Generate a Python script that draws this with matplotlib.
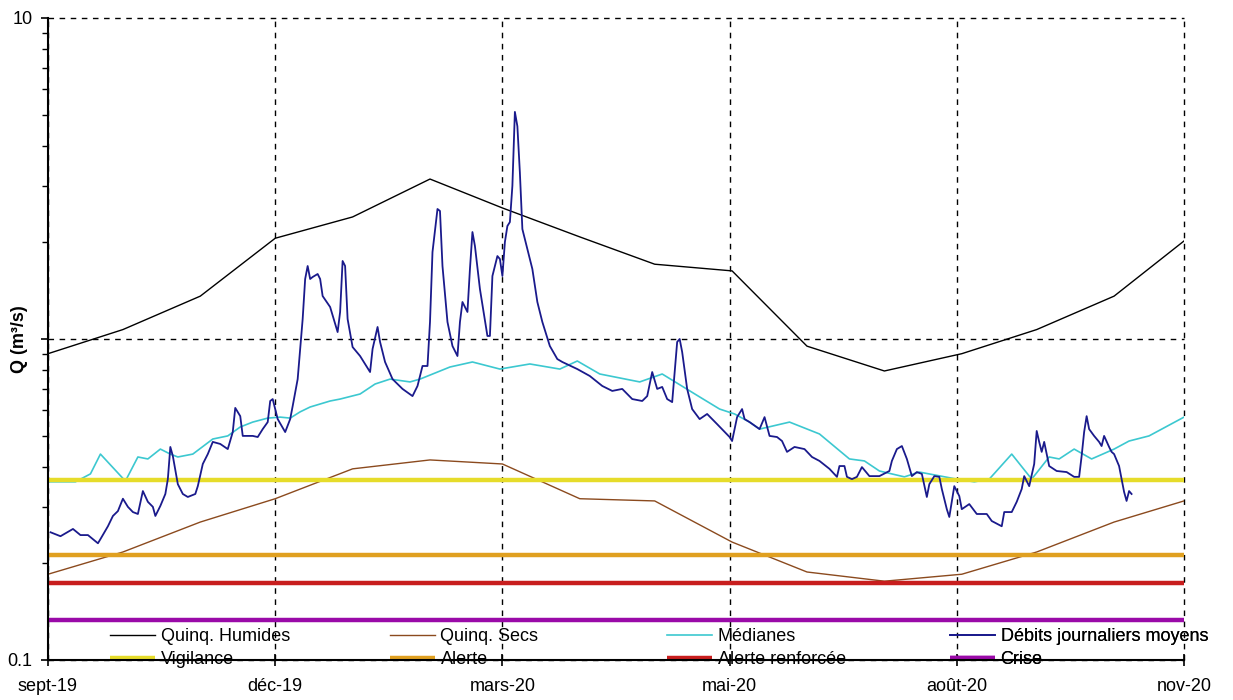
import matplotlib.pyplot as plt
from matplotlib.ticker import LogLocator, NullFormatter

plt.rcParams['font.family'] = ['Liberation Sans', 'DejaVu Sans']

# -----------------------------
# Data (x = days since 2019-09-01)
# -----------------------------
tick_days = [0, 91, 182, 273, 364, 455]
tick_labels = ["sept-19", "déc-19", "mars-20", "mai-20", "août-20", "nov-20"]

month_days = [0, 30, 61, 91, 122, 153, 182, 213, 243, 274, 304, 335, 366, 396, 427, 455]
quinq_humides = [0.90, 1.07, 1.36, 2.06, 2.40, 3.15, 2.56, 2.08, 1.71, 1.63,
                 0.95, 0.795, 0.90, 1.07, 1.36, 2.02]
quinq_secs = [0.185, 0.217, 0.269, 0.318, 0.394, 0.42, 0.408, 0.318, 0.313, 0.233,
              0.188, 0.176, 0.185, 0.217, 0.269, 0.313]

median_days = [0, 11, 17, 21, 31, 36, 40, 45, 49, 52, 58, 66, 72, 77, 82, 88, 93, 97,
               101, 105, 113, 117, 125, 131, 137, 145, 149, 161, 170, 181, 193, 205,
               212, 221, 237, 246, 261, 269, 275, 281, 285, 297, 309, 321, 327, 333,
               343, 349, 364, 371, 377, 386, 394, 401, 405, 411, 418, 427, 433, 441, 455]
medianes = [0.359, 0.359, 0.380, 0.438, 0.361, 0.429, 0.423, 0.454, 0.438, 0.429,
            0.438, 0.488, 0.499, 0.532, 0.551, 0.567, 0.571, 0.567, 0.593, 0.614,
            0.641, 0.650, 0.674, 0.724, 0.750, 0.735, 0.750, 0.818, 0.848, 0.806,
            0.836, 0.806, 0.854, 0.778, 0.735, 0.778, 0.660, 0.605, 0.584, 0.551,
            0.524, 0.551, 0.506, 0.423, 0.417, 0.388, 0.372, 0.385, 0.366, 0.359,
            0.366, 0.438, 0.366, 0.429, 0.423, 0.454, 0.423, 0.454, 0.481, 0.499, 0.571]

debit_days = [1, 5, 10, 13, 16, 20, 21, 24, 26, 28, 30, 32, 34, 36, 38, 40, 42, 43, 45,
              47, 48, 49, 50, 52, 54, 56, 59, 60, 62, 64, 66, 69, 72, 74, 75, 77, 78,
              82, 84, 86, 88, 89, 90, 92, 95, 97, 98, 100, 102, 103, 104, 105, 106,
              108, 109, 110, 113, 116, 117, 118, 119, 120, 122, 125, 129, 130, 132,
              133, 135, 138, 142, 146, 148, 150, 152, 153, 154, 156, 157, 158, 160,
              162, 164, 165, 166, 168, 169, 170, 171, 173, 176, 177, 178, 180, 181,
              182, 183, 184, 185, 186, 187, 188, 189, 190, 192, 194, 196, 198, 201,
              204, 206, 212, 217, 222, 226, 230, 234, 238, 240, 242, 244, 246, 248,
              250, 252, 253, 254, 256, 258, 261, 264, 268, 273, 274, 276, 278, 279,
              281, 285, 287, 289, 292, 294, 296, 299, 303, 306, 309, 313, 316, 317,
              319, 320, 322, 324, 326, 329, 333, 337, 338, 340, 342, 344, 346, 348,
              350, 352, 353, 355, 357, 358, 360, 361, 362, 363, 365, 366, 369, 372,
              376, 378, 382, 383, 386, 388, 390, 391, 393, 395, 396, 397, 398, 399,
              401, 404, 408, 411, 413, 414, 415, 416, 417, 419, 421, 422, 423, 425,
              426, 427, 429, 430, 431, 432, 433, 434]
debits = [0.250, 0.243, 0.256, 0.245, 0.245, 0.231, 0.238, 0.261, 0.281, 0.291, 0.318,
          0.300, 0.289, 0.285, 0.336, 0.311, 0.300, 0.281, 0.302, 0.329, 0.366, 0.461,
          0.432, 0.353, 0.329, 0.322, 0.329, 0.348, 0.408, 0.438, 0.478, 0.471, 0.454,
          0.513, 0.610, 0.575, 0.499, 0.499, 0.495, 0.524, 0.551, 0.641, 0.650, 0.563,
          0.513, 0.563, 0.618, 0.750, 1.154, 1.538, 1.688, 1.538, 1.560, 1.594, 1.538,
          1.361, 1.258, 1.051, 1.214, 1.750, 1.688, 1.154, 0.944, 0.885, 0.789, 0.931,
          1.090, 0.979, 0.848, 0.750, 0.699, 0.664, 0.714, 0.824, 0.824, 1.130, 1.866,
          2.541, 2.505, 1.688, 1.130, 0.951, 0.885, 1.130, 1.304, 1.214, 1.652, 2.154,
          1.948, 1.431, 1.022, 1.022, 1.571, 1.813, 1.775, 1.571, 2.005, 2.249, 2.314,
          3.0, 5.10, 4.60, 3.30, 2.20, 1.907, 1.652, 1.304, 1.130, 0.951, 0.866, 0.848,
          0.806, 0.767, 0.714, 0.689, 0.699, 0.650, 0.641, 0.664, 0.789, 0.699, 0.709,
          0.650, 0.636, 0.979, 1.000, 0.911, 0.699, 0.605, 0.563, 0.584, 0.543, 0.495,
          0.481, 0.571, 0.605, 0.563, 0.551, 0.524, 0.571, 0.499, 0.495, 0.481, 0.445,
          0.461, 0.454, 0.429, 0.417, 0.394, 0.372, 0.402, 0.402, 0.372, 0.366, 0.372,
          0.399, 0.374, 0.374, 0.388, 0.417, 0.454, 0.464, 0.423, 0.374, 0.385, 0.380,
          0.322, 0.353, 0.374, 0.372, 0.341, 0.295, 0.279, 0.311, 0.348, 0.324, 0.295,
          0.306, 0.285, 0.285, 0.271, 0.261, 0.289, 0.289, 0.311, 0.341, 0.374, 0.348,
          0.408, 0.517, 0.478, 0.445, 0.478, 0.402, 0.388, 0.385, 0.372, 0.372, 0.432,
          0.513, 0.575, 0.524, 0.499, 0.478, 0.464, 0.499, 0.461, 0.445, 0.438, 0.402,
          0.366, 0.334, 0.313, 0.336, 0.329]

seuils = {"Vigilance": 0.364, "Alerte": 0.212, "Alerte renforcée": 0.174, "Crise": 0.133}
seuil_colors = {"Vigilance": "#e6dc2a", "Alerte": "#e0a020",
                "Alerte renforcée": "#c81e1e", "Crise": "#9a0aa8"}

# -----------------------------
# Plot
# -----------------------------
fig = plt.figure(figsize=(12.33, 7.0), dpi=100)
ax = fig.add_axes([48 / 1233, 40 / 700, 1136 / 1233, 642 / 700])

ax.set_yscale("log")
ax.set_xlim(0, 455)
ax.set_ylim(0.1, 10)

h_hum, = ax.plot(month_days, quinq_humides, color="black", lw=1.0, label="Quinq. Humides")
h_sec, = ax.plot(month_days, quinq_secs, color="#8b4a1e", lw=1.0, label="Quinq. Secs")
h_med, = ax.plot(median_days, medianes, color="#3cc8d0", lw=1.2, label="Médianes")

seuil_handles = []
for name, val in seuils.items():
    h, = ax.plot([0, 455], [val, val], color=seuil_colors[name], lw=3.2, label=name,
                 solid_capstyle="butt")
    seuil_handles.append(h)

h_deb, = ax.plot(debit_days, debits, color="#1a1a8c", lw=1.3, label="Débits journaliers moyens")

# grid
ax.set_xticks(tick_days)
ax.set_xticklabels(tick_labels, fontsize=13)
ax.set_yticks([0.1, 1, 10])
ax.set_yticklabels(["0.1", "", "10"], fontsize=13)
ax.yaxis.set_minor_locator(LogLocator(base=10, subs=range(2, 10)))
ax.yaxis.set_minor_formatter(NullFormatter())
ax.grid(True, which="major", color="black", linestyle=(0, (4, 4)), lw=1.0)
ax.set_axisbelow(True)
for gl in ax.get_xgridlines() + ax.get_ygridlines():
    gl.set_clip_on(False)

ax.tick_params(axis="x", direction="inout", length=8, width=1.2, pad=9)
ax.tick_params(axis="y", which="major", direction="out", length=5, width=1.2, pad=6)
ax.tick_params(axis="y", which="minor", direction="out", length=4, width=1.0)

for side in ["top", "right"]:
    ax.spines[side].set_visible(False)
for side in ["left", "bottom"]:
    ax.spines[side].set_linewidth(1.5)
    ax.spines[side].set_zorder(6)

ax.set_ylabel("Q (m³/s)", fontsize=13, fontweight="bold")
ax.yaxis.set_label_coords(-0.018, 0.5)

# legend: 4 columns, 2 rows, drawn behind the bottom axis
col_x = [0.0546, 0.301, 0.545, 0.794]
pairs = [(h_hum, seuil_handles[0]), (h_sec, seuil_handles[1]),
         (h_med, seuil_handles[2]), (h_deb, seuil_handles[3])]
for cx, (top, bottom) in zip(col_x, pairs):
    leg = ax.legend(handles=[top, bottom], loc="upper left", bbox_to_anchor=(cx, 0.050),
                    frameon=False, fontsize=13, handlelength=2.5, handletextpad=0.3,
                    labelspacing=0.33, borderpad=0, borderaxespad=0)
    leg.set_zorder(5)
    ax.add_artist(leg)

fig.savefig("out.png", dpi=100, facecolor="white")
